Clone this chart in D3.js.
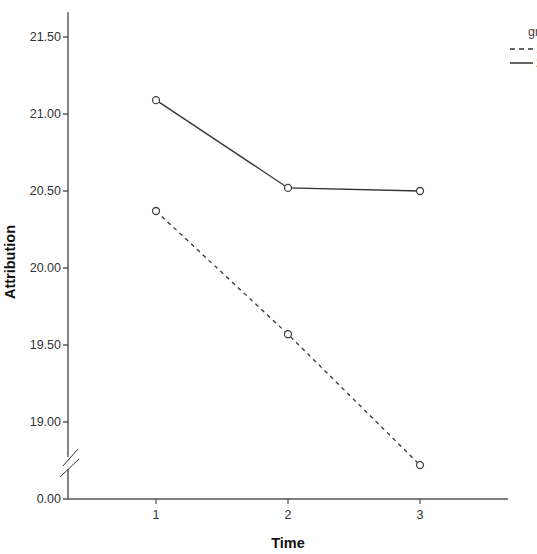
<!DOCTYPE html>
<html>
<head>
<meta charset="utf-8">
<script src="https://cdn.jsdelivr.net/npm/d3@7"></script>
<style>
  body { margin: 0; background: #fff; }
  text { font-family: "Liberation Sans", Arial, sans-serif; }
</style>
</head>
<body>
<div id="chart"></div>
<script>
// data
var times = [1, 2, 3];
var groupNames = ["1", "2"];
var dashedValues = [20.37, 19.57, 18.72];
var solidValues = [21.09, 20.52, 20.50];
var yTicks = [0, 19, 19.5, 20, 20.5, 21, 21.5];

var W = 537, H = 554;
var svg = d3.select("#chart").append("svg")
    .attr("width", W)
    .attr("height", H);

// x axis spans 1/3 .. 11/3
var x = d3.scaleLinear()
    .domain([1 / 3, 11 / 3])
    .range([68, 508]);

// broken y axis: 0.00 sits where 18.5 would be
var y = d3.scaleLinear()
    .domain([18.5, 21.5])
    .range([499, 37]);
var yPos = function(v) { return v === 0 ? y(18.5) : y(v); };

var axisColor = "#333";
var bx = x(1 / 3);

// y axis line, in two parts around the break
var breakA = 457, breakB = 469;
svg.append("line")
    .attr("x1", bx).attr("x2", bx)
    .attr("y1", y(21.66)).attr("y2", breakA)
    .attr("stroke", axisColor).attr("stroke-width", 1.2);
svg.append("line")
    .attr("x1", bx).attr("x2", bx)
    .attr("y1", breakB).attr("y2", y(18.5))
    .attr("stroke", axisColor).attr("stroke-width", 1.2);

// break marks: two parallel slashes
svg.append("line")
    .attr("x1", bx - 5).attr("y1", breakA + 9)
    .attr("x2", bx + 10).attr("y2", breakA - 8)
    .attr("stroke", axisColor).attr("stroke-width", 1);
svg.append("line")
    .attr("x1", bx - 8).attr("y1", breakB + 8)
    .attr("x2", bx + 11).attr("y2", breakB - 10)
    .attr("stroke", axisColor).attr("stroke-width", 1);

// y ticks and labels
var yt = svg.append("g");
yTicks.forEach(function(v) {
  yt.append("line")
      .attr("x1", bx - 5).attr("x2", bx)
      .attr("y1", yPos(v)).attr("y2", yPos(v))
      .attr("stroke", axisColor).attr("stroke-width", 1.2);
  yt.append("text")
      .attr("x", bx - 7).attr("y", yPos(v))
      .attr("dy", "0.35em")
      .attr("text-anchor", "end")
      .attr("font-size", 12.5)
      .attr("fill", "#333")
      .text(d3.format(".2f")(v));
});

// x axis
svg.append("line")
    .attr("x1", bx).attr("x2", x(11 / 3))
    .attr("y1", y(18.5)).attr("y2", y(18.5))
    .attr("stroke", "#555").attr("stroke-width", 1.5);
var xt = svg.append("g");
times.forEach(function(t) {
  xt.append("line")
      .attr("x1", x(t)).attr("x2", x(t))
      .attr("y1", y(18.5)).attr("y2", y(18.5) + 5)
      .attr("stroke", axisColor).attr("stroke-width", 1);
  xt.append("text")
      .attr("x", x(t)).attr("y", y(18.5) + 20)
      .attr("text-anchor", "middle")
      .attr("font-size", 12.5)
      .attr("fill", "#333")
      .text(t);
});

// axis titles
svg.append("text")
    .attr("x", x(2)).attr("y", 548)
    .attr("text-anchor", "middle")
    .attr("font-size", 14.5)
    .attr("font-weight", "bold")
    .attr("fill", "#111")
    .text("Time");
svg.append("text")
    .attr("transform", "translate(15,262) rotate(-90)")
    .attr("text-anchor", "middle")
    .attr("font-size", 14.5)
    .attr("font-weight", "bold")
    .attr("fill", "#111")
    .text("Attribution");

// lines
var line = d3.line()
    .x(function(d, i) { return x(times[i]); })
    .y(function(d) { return y(d); });

var series = [
  {name: groupNames[0], values: dashedValues, dash: "4,4"},
  {name: groupNames[1], values: solidValues, dash: null}
];

series.forEach(function(s) {
  svg.append("path")
      .datum(s.values)
      .attr("d", line)
      .attr("fill", "none")
      .attr("stroke", "#333")
      .attr("stroke-width", 1.3)
      .attr("stroke-dasharray", s.dash);
  svg.selectAll(null)
      .data(s.values)
      .enter().append("circle")
      .attr("cx", function(d, i) { return x(times[i]); })
      .attr("cy", function(d) { return y(d); })
      .attr("r", 3.5)
      .attr("fill", "#fff")
      .attr("stroke", "#444")
      .attr("stroke-width", 1.3);
});

// legend, cut off by the right edge as in the original
var lg = svg.append("g");
lg.append("text")
    .attr("x", 528).attr("y", 36)
    .attr("font-size", 12.5)
    .attr("fill", "#444")
    .text("group");
series.forEach(function(s, i) {
  var ly = 49 + i * 14;
  lg.append("line")
      .attr("x1", 510).attr("x2", 533)
      .attr("y1", ly).attr("y2", ly)
      .attr("stroke", "#333")
      .attr("stroke-width", 1.5)
      .attr("stroke-dasharray", s.dash ? "5,4" : null);
  lg.append("text")
      .attr("x", 536).attr("y", ly)
      .attr("dy", "0.35em")
      .attr("font-size", 12.5)
      .attr("fill", "#444")
      .text(s.name);
});
</script>
</body>
</html>
